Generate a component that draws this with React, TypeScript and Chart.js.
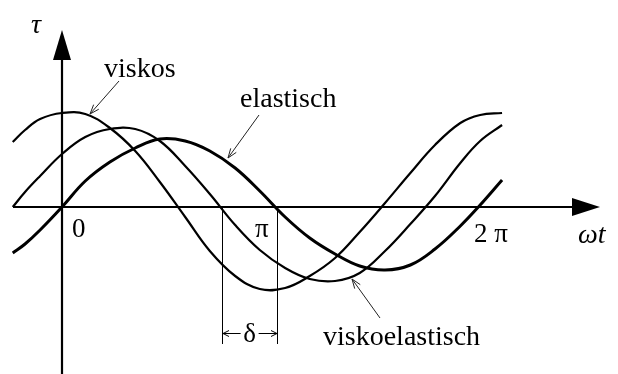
import { useEffect, useRef } from 'react';
import { Chart, registerables } from 'chart.js';

Chart.register(...registerables);

// Phase angle ωt (rad) at which the curves are sampled
const omegaT = [-0.72, -0.54, -0.32, 0, 0.34, 0.7, 1.07, 1.43, 1.8, 2.16, 2.53, 2.89, 3.26, 3.62, 3.99, 4.35, 4.72, 5.09, 5.45, 5.82, 6.11, 6.43];

// Shear stress τ for the three material responses
const tauViskos = [0.65, 0.77, 0.88, 0.94, 0.93, 0.79, 0.56, 0.25, -0.1, -0.44, -0.69, -0.82, -0.81, -0.69, -0.51, -0.25, 0.04, 0.34, 0.62, 0.84, 0.92, 0.94];
const tauViskoelastisch = [0, 0.15, 0.31, 0.53, 0.7, 0.78, 0.78, 0.66, 0.41, 0.13, -0.18, -0.43, -0.61, -0.72, -0.74, -0.66, -0.44, -0.17, 0.11, 0.44, 0.66, 0.82];
const tauElastisch = [-0.46, -0.37, -0.23, 0, 0.26, 0.45, 0.59, 0.68, 0.66, 0.56, 0.39, 0.16, -0.1, -0.31, -0.47, -0.59, -0.63, -0.58, -0.42, -0.19, 0.02, 0.27];

// Phase lag δ of the viscoelastic response (rad)
const phaseLag = 0.8;

// Axis tick positions and their labels
const tickValues = [0, Math.PI, 2 * Math.PI];
const tickLabels = ['0', 'π', '2 π'];

const SERIF = "'Liberation Serif', 'Times New Roman', serif";

function pointer(ctx: CanvasRenderingContext2D, fx: number, fy: number, tx: number, ty: number) {
  const ang = Math.atan2(ty - fy, tx - fx);
  const len = 10;
  const spread = 0.35;
  ctx.beginPath();
  ctx.moveTo(fx, fy);
  ctx.lineTo(tx, ty);
  ctx.moveTo(tx - len * Math.cos(ang - spread), ty - len * Math.sin(ang - spread));
  ctx.lineTo(tx, ty);
  ctx.lineTo(tx - len * Math.cos(ang + spread), ty - len * Math.sin(ang + spread));
  ctx.stroke();
}

function hArrow(ctx: CanvasRenderingContext2D, fromX: number, toX: number, yy: number) {
  const dir = Math.sign(toX - fromX);
  ctx.beginPath();
  ctx.moveTo(fromX, yy);
  ctx.lineTo(toX, yy);
  ctx.moveTo(toX - dir * 6, yy - 3);
  ctx.lineTo(toX, yy);
  ctx.lineTo(toX - dir * 6, yy + 3);
  ctx.stroke();
}

const diagramPlugin = {
  id: 'diagram',
  beforeDatasetsDraw(chart: any) {
    const { ctx, scales } = chart;
    const xs = scales.x;
    const ys = scales.y;
    const x0 = xs.getPixelForValue(0);
    const y0 = ys.getPixelForValue(0);
    ctx.save();
    ctx.fillStyle = '#000';
    ctx.strokeStyle = '#000';

    // ωt axis with arrowhead
    ctx.lineWidth = 2.2;
    ctx.beginPath();
    ctx.moveTo(13, y0);
    ctx.lineTo(576, y0);
    ctx.stroke();
    ctx.beginPath();
    ctx.moveTo(600, y0);
    ctx.lineTo(572, y0 - 9);
    ctx.lineTo(572, y0 + 9);
    ctx.closePath();
    ctx.fill();

    // τ axis with arrowhead
    ctx.beginPath();
    ctx.moveTo(x0, 58);
    ctx.lineTo(x0, chart.height);
    ctx.stroke();
    ctx.beginPath();
    ctx.moveTo(x0, 30);
    ctx.lineTo(x0 - 9, 60);
    ctx.lineTo(x0 + 9, 60);
    ctx.closePath();
    ctx.fill();

    // δ marker lines
    const xd = xs.getPixelForValue(Math.PI - phaseLag);
    const xp = xs.getPixelForValue(Math.PI);
    ctx.lineWidth = 1;
    ctx.beginPath();
    ctx.moveTo(Math.round(xd) + 0.5, y0);
    ctx.lineTo(Math.round(xd) + 0.5, 344);
    ctx.moveTo(Math.round(xp) + 0.5, y0);
    ctx.lineTo(Math.round(xp) + 0.5, 344);
    ctx.stroke();
    const mid = (xd + xp) / 2;
    hArrow(ctx, mid - 9, Math.round(xd) + 1, 333.5);
    hArrow(ctx, mid + 9, Math.round(xp), 333.5);
    ctx.restore();
  },
  afterDatasetsDraw(chart: any) {
    const { ctx, scales } = chart;
    const xs = scales.x;
    const ys = scales.y;
    const x0 = xs.getPixelForValue(0);
    const y0 = ys.getPixelForValue(0);
    ctx.save();
    ctx.fillStyle = '#000';
    ctx.strokeStyle = '#222';

    // Axis titles
    ctx.font = `italic 28px ${SERIF}`;
    ctx.textBaseline = 'alphabetic';
    ctx.textAlign = 'left';
    ctx.fillText('τ', x0 - 31, 33);
    ctx.fillText('ωt', 578, 243);

    // Tick labels
    ctx.font = `27px ${SERIF}`;
    const offsets = [[10, 30], [-22, 30], [-18, 35]];
    tickValues.forEach((v, i) => {
      ctx.fillText(tickLabels[i], xs.getPixelForValue(v) + offsets[i][0], y0 + offsets[i][1]);
    });

    // δ label
    const xd = xs.getPixelForValue(Math.PI - phaseLag);
    const xp = xs.getPixelForValue(Math.PI);
    ctx.textAlign = 'center';
    ctx.fillText('δ', (xd + xp) / 2, 342);

    // Curve names with pointers
    ctx.textAlign = 'left';
    ctx.font = `28px ${SERIF}`;
    ctx.fillText('viskos', 104, 77);
    ctx.fillText('elastisch', 240, 107);
    ctx.fillText('viskoelastisch', 323, 345);

    ctx.lineWidth = 1;
    pointer(ctx, 119, 81, 90, 114);
    pointer(ctx, 259, 115, 228, 158);
    pointer(ctx, 380, 318, 352, 279);
    ctx.restore();
  },
};

function series(values: number[]) {
  return omegaT.map((x, i) => ({ x, y: values[i] }));
}

export default function App() {
  const canvasRef = useRef<HTMLCanvasElement | null>(null);

  useEffect(() => {
    const canvas = canvasRef.current;
    if (!canvas) return;
    const common = {
      borderColor: '#000',
      pointRadius: 0,
      fill: false,
      tension: 0.4,
    };
    const chart = new Chart(canvas, {
      type: 'line',
      data: {
        datasets: [
          { label: 'viskos', data: series(tauViskos), borderWidth: 2.2, ...common },
          { label: 'viskoelastisch', data: series(tauViskoelastisch), borderWidth: 2.2, ...common },
          { label: 'elastisch', data: series(tauElastisch), borderWidth: 3, ...common },
        ],
      },
      options: {
        responsive: false,
        animation: false,
        devicePixelRatio: 1,
        layout: { padding: 0 },
        plugins: { legend: { display: false }, tooltip: { enabled: false }, title: { display: false } },
        events: [],
        scales: {
          x: { type: 'linear', display: false, min: -0.906, max: 8.124 },
          y: { type: 'linear', display: false, min: -1.67, max: 2.07 },
        },
      },
      plugins: [diagramPlugin],
    });
    return () => chart.destroy();
  }, []);

  return (
    <div style={{ position: 'absolute', left: 0, top: 0, width: 618, height: 374, background: '#fff' }}>
      <canvas ref={canvasRef} width={618} height={374} style={{ display: 'block' }} />
    </div>
  );
}
